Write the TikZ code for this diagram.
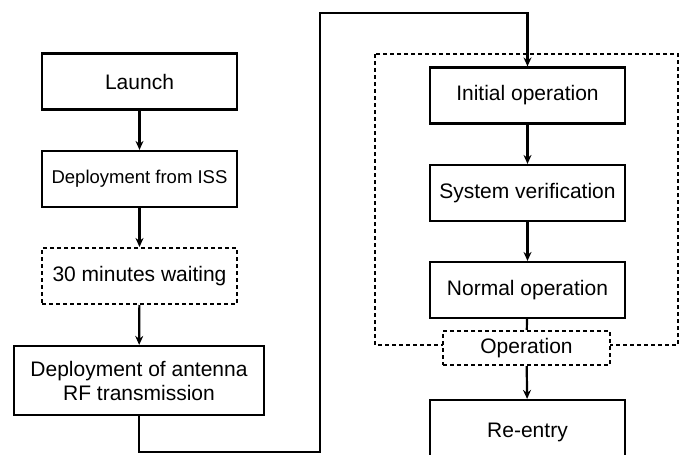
\documentclass[tikz,border=0pt]{standalone}
\usepackage{fontspec}
\setmainfont{Liberation Sans}
\usepackage{tikz}
\usetikzlibrary{arrows.meta}

\begin{document}
\begin{tikzpicture}[x=1pt, y=-1pt, >={Stealth[length=9pt, width=8pt]},
  stage/.style={draw, line width=2.2pt, minimum width=195pt, minimum height=56pt,
    inner sep=0pt, align=center, font=\fontsize{21}{24}\selectfont},
  waitbox/.style={stage, line width=2pt, dash pattern=on 4pt off 3pt},
  link/.style={draw, line width=2.2pt}]
\useasboundingbox (0,0) rectangle (686,455);
% left column
\node[stage] (launch) at (139.5,81.5) {Launch};
\node[stage, font=\fontsize{18.5}{22}\selectfont] (iss) at (139.5,179) {Deployment from ISS};
\node[waitbox] (wait) at (139.5,276) {30 minutes waiting};
\node[stage, minimum width=250pt, minimum height=69pt] (antenna) at (139,380.5)
  {Deployment of antenna\\RF transmission};
% right column
\draw[line width=2pt, dash pattern=on 4pt off 3pt] (375,54) rectangle (678,345);
\node[stage] (initial) at (527.5,95.5) {Initial operation};
\node[stage] (verify) at (527.5,193) {System verification};
\node[stage] (normal) at (527.5,290) {Normal operation};
\node[waitbox, fill=white, minimum width=167pt, minimum height=34pt] (oper) at (526.5,348) {Operation};
\node[stage, minimum height=64pt] (reentry) at (527.5,432) {Re-entry};
\coordinate (p1) at (139,452);
\coordinate (p2) at (320,452);
\coordinate (p3) at (320,13);
\coordinate (p4) at (527.5,13);
\path[link, ->] (antenna) -- (p1) -- (p2) -- (p3) -- (p4) -- (initial);
\foreach \a/\b in {launch/iss, iss/wait, wait/antenna, initial/verify, verify/normal, oper/reentry}{
    \path[link, ->] (\a) -- (\b);
}
\path[link] (normal) -- (oper);
\end{tikzpicture}
\end{document}
